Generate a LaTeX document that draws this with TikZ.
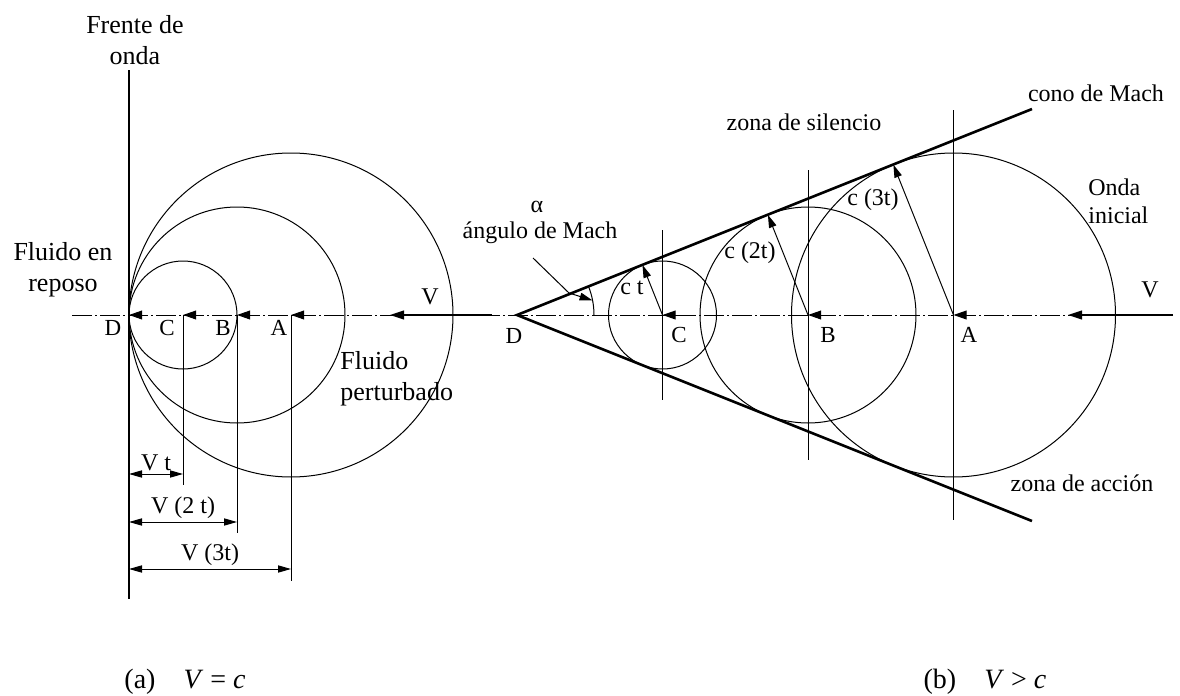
\documentclass[tikz,border=0pt]{standalone}
\usepackage{fontspec}
\setmainfont{Liberation Serif}
\usetikzlibrary{arrows.meta,calc}

\begin{document}
\begin{tikzpicture}[x=0.5pt, y=-0.5pt,
  eje/.style={line width=0.45pt, dash pattern=on 10pt off 1.5pt on 1pt off 1.5pt},
  onda/.style={line width=0.5pt},
  guia/.style={line width=0.5pt},
  cono/.style={line width=1.3pt},
  punta/.style={-{Triangle[length=6.5pt,width=4.4pt]}, line width=0.5pt},
  velo/.style={-{Triangle[length=7pt,width=4.4pt]}, line width=0.9pt},
  cota/.style={{Triangle[length=6.5pt,width=3.6pt]}-{Triangle[length=6.5pt,width=3.6pt]}, line width=0.5pt},
  radio/.style={-{Triangle[length=6.5pt,width=3.8pt]}, line width=0.5pt},
  rotulo/.style={font=\fontsize{12}{14}\selectfont, inner sep=0pt},
  grande/.style={font=\fontsize{13}{15.5}\selectfont, inner sep=0pt},
  letra/.style={font=\fontsize{11.5}{14}\selectfont, inner sep=0pt},
  pie/.style={font=\fontsize{14}{16}\selectfont, inner sep=0pt}]
\useasboundingbox (0,0) rectangle (1180,696);

% (a) V = c
\coordinate (aD) at (129,315);
\coordinate (aC) at (183,315);
\coordinate (aB) at (237,315);
\coordinate (aA) at (291,315);
\coordinate (aI) at (72,315);
\coordinate (aV) at (492,315);
\coordinate (aTop) at (129,70);
\coordinate (aBot) at (129,599);

\draw[eje] (aI) -- (aV);
\draw[line width=0.8pt] (aTop) -- (aBot);
\foreach \p/\r in {aC/54, aB/108, aA/162}
  \draw[onda] (\p) circle[radius=\r];
\draw[guia] (aC) -- ++(0,170);
\draw[guia] (aB) -- ++(0,218);
\draw[guia] (aA) -- ++(0,266);
\foreach \p in {aD,aC,aB,aA}
  \draw[punta] ($(\p)+(14,0)$) -- (\p);
\draw[velo] (aV) -- ($(aV)+(-102,0)$);

\draw[cota] ($(aD)+(0,159)$) -- node[rotulo, above=1.5pt] (vt) {V t} ($(aC)+(0,159)$);
\draw[cota] ($(aD)+(0,207)$) -- node[rotulo, above=1.5pt] (v2t) {V (2 t)} ($(aB)+(0,207)$);
\draw[cota] ($(aD)+(0,254)$) -- node[rotulo, above=1.5pt] (v3t) {V (3t)} ($(aA)+(0,254)$);

\node[grande, align=center] (frente) at (135,40) {Frente de\\onda};
\node[grande, align=center] (reposo) at (63,270) {Fluido en\\reposo};
\node[grande, align=left, anchor=west] (perturbado) at (340,379) {Fluido\\perturbado};
\node[rotulo] (aVl) at (430,297) {V};
\node[letra] (aDl) at (113,328) {D};
\node[letra] (aCl) at (167,328) {C};
\node[letra] (aBl) at (223,328) {B};
\node[letra] (aAl) at (279,328) {A};

% (b) V > c
\coordinate (bD) at (517,315);
\coordinate (bC) at (662.5,315);
\coordinate (bB) at (808,315);
\coordinate (bA) at (953.5,315);
\coordinate (bI) at (480,315);
\coordinate (bV) at (1173,315);
\coordinate (bS) at (1032,109);
\coordinate (bN) at (1032,521);

\draw[eje] (bI) -- (bV);
\draw[cono] (bS) -- (bD) -- (bN);
\foreach \p/\r/\h in {bC/54/85, bB/108/145, bA/162/205} {
  \draw[onda] (\p) circle[radius=\r];
  \draw[guia] ($(\p)+(0,-\h)$) -- ($(\p)+(0,\h)$);
  \draw[punta] ($(\p)+(14,0)$) -- (\p);
  \draw[radio] (\p) -- ($(\p)+(248.2:\r)$);
}
\draw[velo] (bV) -- ($(bV)+(-105,0)$);

% angulo de Mach
\draw[guia] ($(bD)+(77,0)$) arc[start angle=0, end angle=-21.8, radius=77];
\coordinate (alfa) at ($(bD)+(-10.9:77)$);
\coordinate (bL) at (533,258);
\coordinate (bK) at (569,293);
\draw[radio] (bL) -- (bK) -- (alfa);

\node[rotulo] (alfaT) at (537,207) {α};
\node[rotulo] (angulo) at (540,233) {ángulo de Mach};
\node[rotulo] (silencio) at (804,122) {zona de silencio};
\node[rotulo] (mach) at (1096,93) {cono de Mach};
\node[rotulo] (ct) at (632,288) {c t};
\node[rotulo] (c2t) at (750,253) {c (2t)};
\node[rotulo] (c3t) at (873,200) {c (3t)};
\node[rotulo, align=left, anchor=west] (inicial) at (1088,201) {Onda\\inicial};
\node[rotulo] (bVl) at (1150,290) {V};
\node[rotulo] (accion) at (1082,483) {zona de acción};
\node[letra] (bDl) at (514,336) {D};
\node[letra] (bCl) at (679,335) {C};
\node[letra] (bBl) at (828,335) {B};
\node[letra] (bAl) at (969,335) {A};

\node[pie] (capA) at (185,682) {(a)\quad\textit{V} = \textit{c}};
\node[pie] (capB) at (985,682) {(b)\quad\textit{V} > \textit{c}};
\end{tikzpicture}
\end{document}
